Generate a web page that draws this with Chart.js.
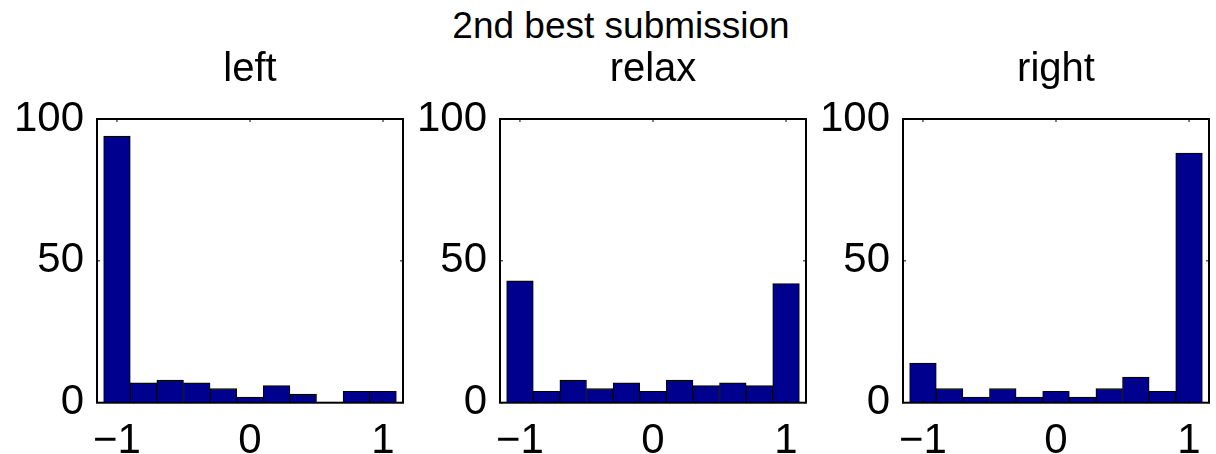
<!DOCTYPE html>
<html>
<head>
<meta charset="utf-8">
<script src="https://cdn.jsdelivr.net/npm/chart.js@4/dist/chart.umd.min.js"></script>
<style>
  html, body { margin: 0; padding: 0; background: #fff; }
  body { width: 1216px; height: 454px; position: relative; overflow: hidden; font-family: "Liberation Sans", Arial, sans-serif; }
  .pane { position: absolute; top: 0; width: 402px; height: 454px; }
  #suptitle { position: absolute; left: 421px; width: 400px; top: 7px; text-align: center; font-size: 37px; line-height: 37px; color: #000; white-space: nowrap; }
</style>
</head>
<body>
<div id="suptitle">2nd best submission</div>
<div class="pane" style="left:6.7px"><canvas id="c0"></canvas></div>
<div class="pane" style="left:409.7px"><canvas id="c1"></canvas></div>
<div class="pane" style="left:812.7px"><canvas id="c2"></canvas></div>
<script>
// ---- data ----
const binCenters = [-1, -0.8, -0.6, -0.4, -0.2, 0, 0.2, 0.4, 0.6, 0.8, 1];
const leftCounts  = [94, 7, 8, 7, 5, 2, 6, 3, 0, 4, 4];
const relaxCounts = [43, 4, 8, 5, 7, 4, 8, 6, 7, 6, 42];
const rightCounts = [14, 5, 2, 5, 2, 4, 2, 5, 9, 4, 88];
const panelTitles = ["left", "relax", "right"];
const xTicks = [-1, 0, 1];
const yTicks = [0, 50, 100];

const FONT = "'Liberation Sans', Arial, sans-serif";

const framePlugin = {
  id: 'frame',
  afterDatasetsDraw(chart) {
    const ctx = chart.ctx, a = chart.chartArea;
    const xs = chart.scales.x, ys = chart.scales.y;
    const tl = 3;
    ctx.save();
    ctx.strokeStyle = '#000';
    ctx.lineWidth = 1;
    ctx.beginPath();
    xTicks.forEach(v => {
      const px = xs.getPixelForValue(v);
      ctx.moveTo(px, a.top); ctx.lineTo(px, a.top + tl);
      ctx.moveTo(px, a.bottom); ctx.lineTo(px, a.bottom - tl);
    });
    yTicks.forEach(v => {
      const py = ys.getPixelForValue(v);
      ctx.moveTo(a.left, py); ctx.lineTo(a.left + tl, py);
      ctx.moveTo(a.right, py); ctx.lineTo(a.right - tl, py);
    });
    ctx.stroke();
    ctx.lineWidth = 2;
    ctx.strokeRect(a.left, a.top, a.right - a.left, a.bottom - a.top);
    ctx.restore();
  }
};

function makeChart(id, title, counts) {
  const pts = binCenters.map((x, i) => ({x: x, y: counts[i]}));
  new Chart(document.getElementById(id), {
    type: 'bar',
    data: {
      datasets: [{
        data: pts,
        backgroundColor: '#00008F',
        borderColor: '#000',
        borderWidth: 1,
        borderSkipped: 'bottom',
        barPercentage: 1,
        categoryPercentage: 1
      }]
    },
    options: {
      responsive: false,
      animation: false,
      devicePixelRatio: 1,
      layout: { padding: { top: 0, right: 6, bottom: 0, left: 0 } },
      plugins: {
        legend: { display: false },
        tooltip: { enabled: false },
        title: {
          display: true, text: title, color: '#000', fullSize: false,
          font: { family: FONT, size: 40, weight: 'normal' },
          padding: { top: 46, bottom: 25 }
        }
      },
      scales: {
        x: {
          type: 'linear', min: -1.15, max: 1.15, offset: false,
          grid: { display: false, drawTicks: false, offset: false },
          border: { display: false },
          afterBuildTicks: s => { s.ticks = xTicks.map(v => ({value: v})); },
          afterFit: s => { s.height = 51.3; },
          ticks: {
            color: '#000', padding: 13.4, maxRotation: 0, autoSkip: false,
            font: { family: FONT, size: 42 },
            callback: v => (v < 0 ? '\u2212' + Math.abs(v) : String(v))
          }
        },
        y: {
          min: 0, max: 100,
          grid: { display: false, drawTicks: false },
          border: { display: false },
          afterBuildTicks: s => { s.ticks = yTicks.map(v => ({value: v})); },
          afterFit: s => { s.width = 90; },
          ticks: {
            color: '#000', padding: 13,
            font: { family: FONT, size: 42 }
          }
        }
      }
    },
    plugins: [framePlugin]
  });
}

document.querySelectorAll('canvas').forEach(c => { c.width = 402; c.height = 454; });
makeChart('c0', panelTitles[0], leftCounts);
makeChart('c1', panelTitles[1], relaxCounts);
makeChart('c2', panelTitles[2], rightCounts);
</script>
</body>
</html>
